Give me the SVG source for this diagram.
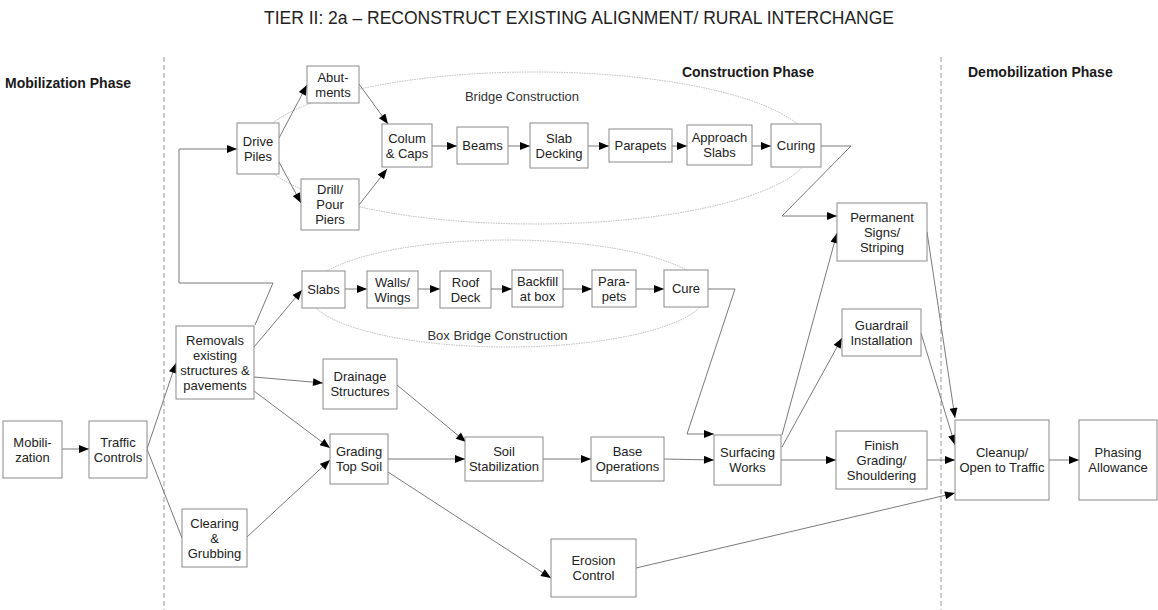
<svg xmlns="http://www.w3.org/2000/svg" width="1158" height="610" viewBox="0 0 1158 610">
  <style>
    .bg { fill: #ffffff; }
    .box { fill: #ffffff; stroke: #8a8a8a; stroke-width: 1; }
    .t { font-family: "Liberation Sans", Arial, sans-serif; font-size: 13px; fill: #222222; text-anchor: middle; }
    .title { font-family: "Liberation Sans", Arial, sans-serif; font-size: 17.5px; fill: #222222; text-anchor: middle; }
    .phase { font-family: "Liberation Sans", Arial, sans-serif; font-size: 14px; font-weight: bold; fill: #1a1a1a; }
    .group-label { font-family: "Liberation Sans", Arial, sans-serif; font-size: 13px; fill: #333333; text-anchor: middle; }
    .divider { stroke: #9a9a9a; stroke-width: 1; stroke-dasharray: 5 3; fill: none; }
    .ring { fill: none; stroke: #a8a8a8; stroke-width: 0.8; stroke-dasharray: 1.5 1; }
    .edge { fill: none; stroke: #7a7a7a; stroke-width: 1; }
    .arrow { marker-end: url(#head); }
  </style>
  <defs>
    <marker id="head" viewBox="0 0 10 8" refX="10" refY="4" markerWidth="11" markerHeight="8" markerUnits="userSpaceOnUse" orient="auto">
      <path d="M0,0 L10,4 L0,8 Z" fill="#000000"/>
    </marker>
  </defs>

  <rect class="bg" x="0" y="0" width="1158" height="610"/>

  <!-- title and phase headings -->
  <text class="title" x="579" y="24">TIER II: 2a – RECONSTRUCT EXISTING ALIGNMENT/ RURAL INTERCHANGE</text>
  <text class="phase" x="5" y="88">Mobilization Phase</text>
  <text class="phase" x="748" y="77" text-anchor="middle">Construction Phase</text>
  <text class="phase" x="968" y="77">Demobilization Phase</text>

  <!-- phase dividers -->
  <line class="divider" x1="164" y1="57" x2="164" y2="610"/>
  <line class="divider" x1="941" y1="57" x2="941" y2="610"/>

  <!-- work groupings -->
  <g id="bridge-construction">
    <ellipse class="ring" cx="534.5" cy="148" rx="277" ry="76"/>
    <text class="group-label" x="522" y="101">Bridge Construction</text>
  </g>
  <g id="box-bridge-construction">
    <ellipse class="ring" cx="507.5" cy="293.5" rx="199" ry="53.5"/>
    <text class="group-label" x="497.5" y="340">Box Bridge Construction</text>
  </g>

  <!-- connectors -->
  <g id="connectors">
    <line class="edge arrow" x1="62" y1="449" x2="89" y2="449"/>
    <line class="edge arrow" x1="147" y1="449" x2="176" y2="363"/>
    <line class="edge" x1="147" y1="449" x2="182" y2="538"/>
    <polyline class="edge arrow" points="255,325 273,283 179,283 179,149 237,149"/>
    <line class="edge arrow" x1="254" y1="347" x2="302" y2="290"/>
    <line class="edge arrow" x1="254" y1="377" x2="323" y2="383"/>
    <line class="edge arrow" x1="254" y1="391" x2="330" y2="448"/>
    <line class="edge arrow" x1="247" y1="537" x2="330" y2="460"/>

    <!-- bridge chain -->
    <line class="edge arrow" x1="279" y1="138" x2="307" y2="85"/>
    <line class="edge arrow" x1="279" y1="162" x2="301" y2="203"/>
    <line class="edge arrow" x1="359" y1="84" x2="388" y2="124"/>
    <line class="edge arrow" x1="359" y1="205" x2="387" y2="169"/>
    <line class="edge arrow" x1="432" y1="146" x2="457" y2="146"/>
    <line class="edge arrow" x1="508" y1="146" x2="530" y2="146"/>
    <line class="edge arrow" x1="588" y1="146" x2="609" y2="146"/>
    <line class="edge arrow" x1="672" y1="146" x2="687" y2="146"/>
    <line class="edge arrow" x1="752" y1="146" x2="771" y2="146"/>
    <polyline class="edge arrow" points="821,146 851,146 782,216 837,216"/>

    <!-- box bridge chain -->
    <line class="edge arrow" x1="345" y1="289" x2="367" y2="289"/>
    <line class="edge arrow" x1="418" y1="289" x2="440" y2="289"/>
    <line class="edge arrow" x1="491" y1="289" x2="512" y2="289"/>
    <line class="edge arrow" x1="563" y1="289" x2="592" y2="289"/>
    <line class="edge arrow" x1="636" y1="289" x2="664" y2="289"/>
    <polyline class="edge arrow" points="708,289 735,289 687,434 714,434"/>

    <!-- roadway chain -->
    <line class="edge arrow" x1="397" y1="385" x2="466" y2="442"/>
    <line class="edge arrow" x1="388" y1="459" x2="465" y2="459"/>
    <line class="edge arrow" x1="388" y1="472" x2="551" y2="578"/>
    <line class="edge arrow" x1="543" y1="459" x2="591" y2="459"/>
    <line class="edge arrow" x1="664" y1="459" x2="714" y2="460"/>
    <line class="edge arrow" x1="781" y1="460" x2="836" y2="460"/>
    <line class="edge arrow" x1="782" y1="447" x2="842" y2="338"/>
    <line class="edge arrow" x1="782" y1="435" x2="837" y2="233"/>
    <line class="edge arrow" x1="636" y1="568" x2="955" y2="493"/>
    <line class="edge arrow" x1="927" y1="232" x2="955" y2="418"/>
    <line class="edge arrow" x1="921" y1="333" x2="955" y2="445"/>
    <line class="edge arrow" x1="927" y1="460" x2="955" y2="460"/>
    <line class="edge arrow" x1="1049" y1="460" x2="1079" y2="460"/>
  </g>

  <!-- nodes -->
  <g id="mobilization">
    <rect class="box" x="3" y="421" width="59" height="57"/>
    <text class="t" x="32.5" y="446.5">Mobili-</text>
    <text class="t" x="32.5" y="461.5">zation</text>
  </g>
  <g id="traffic-controls">
    <rect class="box" x="89" y="421" width="58" height="57"/>
    <text class="t" x="118" y="446.5">Traffic</text>
    <text class="t" x="118" y="461.5">Controls</text>
  </g>
  <g id="removals">
    <rect class="box" x="176" y="326" width="78" height="73"/>
    <text class="t" x="215" y="344.5">Removals</text>
    <text class="t" x="215" y="359.5">existing</text>
    <text class="t" x="215" y="374.5">structures &amp;</text>
    <text class="t" x="215" y="389.5">pavements</text>
  </g>
  <g id="clearing-grubbing">
    <rect class="box" x="182" y="509" width="65" height="58"/>
    <text class="t" x="214.5" y="527.5">Clearing</text>
    <text class="t" x="214.5" y="542.5">&amp;</text>
    <text class="t" x="214.5" y="557.5">Grubbing</text>
  </g>
  <g id="drive-piles">
    <rect class="box" x="237" y="123" width="42" height="51"/>
    <text class="t" x="258" y="145.5">Drive</text>
    <text class="t" x="258" y="160.5">Piles</text>
  </g>
  <g id="abutments">
    <rect class="box" x="307" y="66" width="52" height="37"/>
    <text class="t" x="333" y="81.5">Abut-</text>
    <text class="t" x="333" y="96.5">ments</text>
  </g>
  <g id="drill-pour-piers">
    <rect class="box" x="301" y="179" width="58" height="51"/>
    <text class="t" x="330" y="194">Drill/</text>
    <text class="t" x="330" y="209">Pour</text>
    <text class="t" x="330" y="224">Piers</text>
  </g>
  <g id="colum-caps">
    <rect class="box" x="382" y="124" width="50" height="43"/>
    <text class="t" x="407" y="142.5">Colum</text>
    <text class="t" x="407" y="157.5">&amp; Caps</text>
  </g>
  <g id="beams">
    <rect class="box" x="457" y="127" width="51" height="37"/>
    <text class="t" x="482.5" y="150">Beams</text>
  </g>
  <g id="slab-decking">
    <rect class="box" x="530" y="123" width="58" height="45"/>
    <text class="t" x="559" y="142.5">Slab</text>
    <text class="t" x="559" y="157.5">Decking</text>
  </g>
  <g id="parapets">
    <rect class="box" x="609" y="129" width="63" height="33"/>
    <text class="t" x="640.5" y="150">Parapets</text>
  </g>
  <g id="approach-slabs">
    <rect class="box" x="687" y="125" width="65" height="40"/>
    <text class="t" x="719.5" y="142">Approach</text>
    <text class="t" x="719.5" y="157">Slabs</text>
  </g>
  <g id="curing">
    <rect class="box" x="771" y="124" width="50" height="43"/>
    <text class="t" x="796" y="150">Curing</text>
  </g>
  <g id="slabs">
    <rect class="box" x="302" y="271" width="43" height="37"/>
    <text class="t" x="323.5" y="294">Slabs</text>
  </g>
  <g id="walls-wings">
    <rect class="box" x="367" y="271" width="51" height="37"/>
    <text class="t" x="392.5" y="286.5">Walls/</text>
    <text class="t" x="392.5" y="301.5">Wings</text>
  </g>
  <g id="roof-deck">
    <rect class="box" x="440" y="271" width="51" height="37"/>
    <text class="t" x="465.5" y="286.5">Roof</text>
    <text class="t" x="465.5" y="301.5">Deck</text>
  </g>
  <g id="backfill-at-box">
    <rect class="box" x="512" y="270" width="51" height="37"/>
    <text class="t" x="537.5" y="285.5">Backfill</text>
    <text class="t" x="537.5" y="300.5">at box</text>
  </g>
  <g id="box-parapets">
    <rect class="box" x="592" y="270" width="44" height="37"/>
    <text class="t" x="614" y="285.5">Para-</text>
    <text class="t" x="614" y="300.5">pets</text>
  </g>
  <g id="cure">
    <rect class="box" x="664" y="270" width="44" height="37"/>
    <text class="t" x="686" y="293">Cure</text>
  </g>
  <g id="drainage-structures">
    <rect class="box" x="323" y="359" width="74" height="50"/>
    <text class="t" x="360" y="381">Drainage</text>
    <text class="t" x="360" y="396">Structures</text>
  </g>
  <g id="grading-top-soil">
    <rect class="box" x="330" y="434" width="58" height="50"/>
    <text class="t" x="359" y="456">Grading</text>
    <text class="t" x="359" y="471">Top Soil</text>
  </g>
  <g id="soil-stabilization">
    <rect class="box" x="465" y="437" width="78" height="44"/>
    <text class="t" x="504" y="456">Soil</text>
    <text class="t" x="504" y="471">Stabilization</text>
  </g>
  <g id="base-operations">
    <rect class="box" x="591" y="437" width="73" height="44"/>
    <text class="t" x="627.5" y="456">Base</text>
    <text class="t" x="627.5" y="471">Operations</text>
  </g>
  <g id="erosion-control">
    <rect class="box" x="551" y="539" width="85" height="58"/>
    <text class="t" x="593.5" y="565">Erosion</text>
    <text class="t" x="593.5" y="580">Control</text>
  </g>
  <g id="surfacing-works">
    <rect class="box" x="714" y="435" width="67" height="50"/>
    <text class="t" x="747.5" y="457">Surfacing</text>
    <text class="t" x="747.5" y="472">Works</text>
  </g>
  <g id="permanent-signs-striping">
    <rect class="box" x="837" y="203" width="90" height="58"/>
    <text class="t" x="882" y="221.5">Permanent</text>
    <text class="t" x="882" y="236.5">Signs/</text>
    <text class="t" x="882" y="251.5">Striping</text>
  </g>
  <g id="guardrail-installation">
    <rect class="box" x="842" y="309" width="79" height="47"/>
    <text class="t" x="881.5" y="329.5">Guardrail</text>
    <text class="t" x="881.5" y="344.5">Installation</text>
  </g>
  <g id="finish-grading-shouldering">
    <rect class="box" x="836" y="431" width="91" height="58"/>
    <text class="t" x="881.5" y="449.5">Finish</text>
    <text class="t" x="881.5" y="464.5">Grading/</text>
    <text class="t" x="881.5" y="479.5">Shouldering</text>
  </g>
  <g id="cleanup-open-to-traffic">
    <rect class="box" x="955" y="420" width="94" height="80"/>
    <text class="t" x="1002" y="457">Cleanup/</text>
    <text class="t" x="1002" y="472">Open to Traffic</text>
  </g>
  <g id="phasing-allowance">
    <rect class="box" x="1079" y="420" width="78" height="80"/>
    <text class="t" x="1118" y="457">Phasing</text>
    <text class="t" x="1118" y="472">Allowance</text>
  </g>
</svg>
